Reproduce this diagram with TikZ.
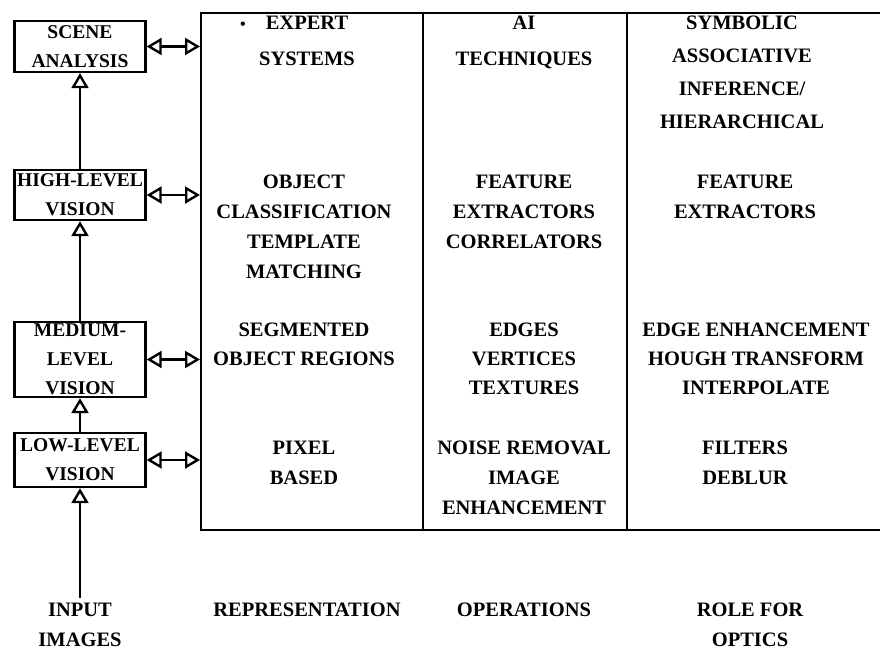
\documentclass[tikz,border=0pt]{standalone}
\usepackage{fontspec}
\setmainfont{Liberation Serif}
\usetikzlibrary{arrows.meta}
\begin{document}
\begin{tikzpicture}[x=1pt,y=-1pt,
  txt/.style={font=\fontsize{20.5}{#1}\selectfont\bfseries, align=center, inner sep=0pt, anchor=north},
  txt/.default=29,
  lvl/.style={draw, line width=2.3pt, inner sep=0pt, align=center, minimum width=131pt,
    font=\fontsize{19.5}{29}\selectfont\bfseries},
  col/.style={draw, line width=2.3pt, inner sep=0pt, anchor=north west, minimum height=517pt},
  tip/.tip={Triangle[open,length=15pt,width=17pt,line width=2.4pt]},
  up/.style={line width=2.3pt, -tip},
  both/.style={line width=2.3pt, tip-tip}
]
\useasboundingbox[fill=white] (0,0) rectangle (880,659);

% table columns
\node[col, minimum width=222pt] (c1) at (200,12) {};
\node[col, minimum width=204pt] (c2) at (422,12) {};
\node[col, minimum width=255pt] (c3) at (626,12) {};

% level boxes
\node[lvl, minimum height=51pt] (scene) at (80,46.5) {SCENE\\ANALYSIS};
\node[lvl, minimum height=50pt] (high) at (80,195) {HIGH-LEVEL\\VISION};
\node[lvl, minimum height=75pt] (med) at (80,359.5) {MEDIUM-\\LEVEL\\VISION};
\node[lvl, minimum height=54pt] (low) at (80,460) {LOW-LEVEL\\VISION};

% bottom labels
\node[txt=30] (input) at (80,603) {INPUT\\IMAGES};
\node[txt] (rep) at (307,603) {REPRESENTATION};
\node[txt] (ops) at (524,603) {OPERATIONS};
\node[txt=30] (role) at (750,603) {ROLE FOR\\OPTICS};

% vertical arrows
\draw[up] (high.north) -- (scene.south);
\draw[up] (med.north) -- (high.south);
\draw[up] (low.north) -- (med.south);
\draw[up, shorten <=5pt] (input.north) -- (low.south);

% horizontal double arrows
\draw[both] (scene.east) -- (scene.east -| c1.west);
\draw[both] (high.east) -- (high.east -| c1.west);
\draw[both] (med.east) -- (med.east -| c1.west);
\draw[both] (low.east) -- (low.east -| c1.west);

% row 1
\node[txt=36] (r1a) at (307,16) {\llap{{\fontsize{16}{16}\selectfont\textbullet}\hspace{20pt}}EXPERT\\SYSTEMS};
\node[txt=36] (r1b) at (524,16) {AI\\TECHNIQUES};
\node[txt=33] (r1c) at (742,16) {SYMBOLIC\\ASSOCIATIVE\\INFERENCE/\\HIERARCHICAL};

% row 2
\node[txt=30] (r2a) at (304,175) {OBJECT\\CLASSIFICATION\\TEMPLATE\\MATCHING};
\node[txt=30] (r2b) at (524,175) {FEATURE\\EXTRACTORS\\CORRELATORS};
\node[txt=30] (r2c) at (745,175) {FEATURE\\EXTRACTORS};

% row 3
\node[txt] (r3a) at (304,323) {SEGMENTED\\OBJECT REGIONS};
\node[txt] (r3b) at (524,323) {EDGES\\VERTICES\\TEXTURES};
\node[txt] (r3c) at (756,323) {EDGE ENHANCEMENT\\HOUGH TRANSFORM\\INTERPOLATE};

% row 4
\node[txt=30] (r4a) at (304,441) {PIXEL\\BASED};
\node[txt=30] (r4b) at (524,441) {NOISE REMOVAL\\IMAGE\\ENHANCEMENT};
\node[txt=30] (r4c) at (745,441) {FILTERS\\DEBLUR};
\end{tikzpicture}
\end{document}
